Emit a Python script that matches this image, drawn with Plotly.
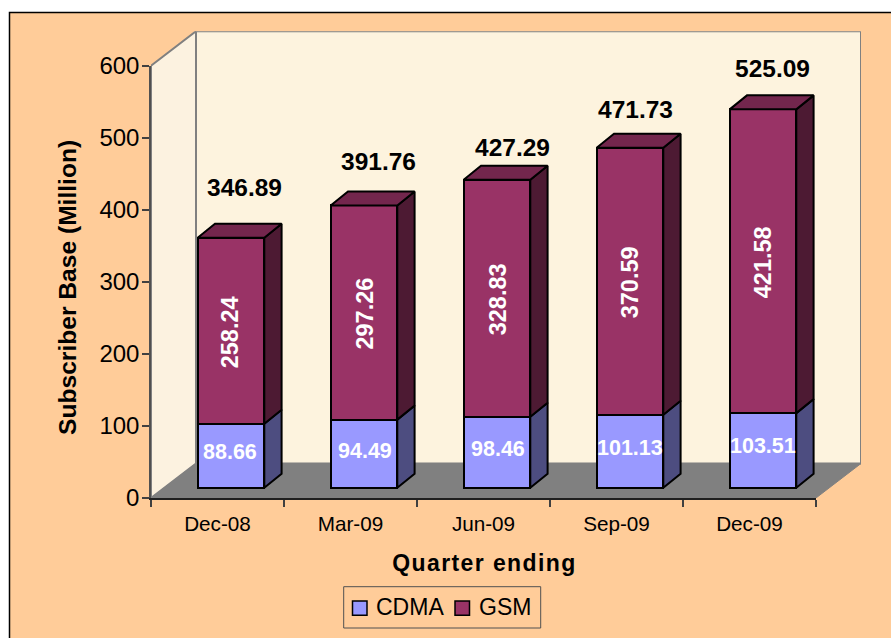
import plotly.graph_objects as go

W, H = 891, 638

quarters = ["Dec-08", "Mar-09", "Jun-09", "Sep-09", "Dec-09"]
cdma = [88.66, 94.49, 98.46, 101.13, 103.51]
gsm = [258.24, 297.26, 328.83, 370.59, 421.58]
totals = [346.89, 391.76, 427.29, 471.73, 525.09]
y_ticks = [0, 100, 200, 300, 400, 500, 600]

# Label nudges in pixels, relative to each anchor
total_dx = [13, 14, 15, 5, 9]
total_dy = [50, 44, 32, 38, 41]
inner_dx = [-1, 1, 1, 0, 0]
cdma_dy = [4, 3, 3, 3, 4]
gsm_dy = [-1.5, -1, -1, -1, -1]

BG, WALL, SIDE_WALL, FLOOR = "#FFCC99", "#FDF3DE", "#FCF2E0", "#808080"
C_FRONT, C_TOP, C_SIDE = "#9999FF", "#7373BF", "#4D4D80"
G_FRONT, G_TOP, G_SIDE = "#993366", "#73264D", "#4D1A33"
FONT = "Liberation Sans"

# Plot geometry (pixels)
L, R, B, T = 151, 816, 498, 65.7
DEPTH_X, DEPTH_Y = 45, 34.5
px_x = (R - L) / 5
px_y = (B - T) / 600
BAR_W = 66.6 / px_x
BAR_DX, BAR_DY = 17.3 / px_x, 14 / px_y
BAR_X0, BAR_Y0 = 231, 487.7


def dom_x(a, b):
    return [a / W, b / W]


def dom_y(bottom, top):
    return [1 - bottom / H, 1 - top / H]


def poly(points_list):
    xs, ys = [], []
    for pts in points_list:
        xs += [p[0] for p in pts] + [pts[0][0], None]
        ys += [p[1] for p in pts] + [pts[0][1], None]
    return xs, ys


def face(xs, ys, fill, line, width, ax):
    return go.Scatter(x=xs, y=ys, mode="lines", fill="toself", fillcolor=fill,
                      line=dict(color=line, width=width), hoverinfo="skip",
                      showlegend=False, xaxis=ax[0], yaxis=ax[1])


def paper_rect(x0, y0, x1, y1, fill, line, width):
    return dict(type="rect", xref="paper", yref="paper", x0=x0 / W, x1=x1 / W,
                y0=1 - y0 / H, y1=1 - y1 / H, fillcolor=fill,
                line=dict(color=line, width=width))


fig = go.Figure()

# Walls and floor, on a hidden axis pair that spans the depth
dx, dy = DEPTH_X / px_x, DEPTH_Y / px_y
n = len(quarters)
top = y_ticks[-1]
xs, ys = poly([[(0, 0), (dx, dy), (dx, top + dy), (0, top)]])
fig.add_trace(face(xs, ys, SIDE_WALL, "#808080", 2, ("x", "y")))
xs, ys = poly([[(dx, dy), (n + dx, dy), (n + dx, top + dy), (dx, top + dy)]])
fig.add_trace(face(xs, ys, WALL, "#808080", 2, ("x", "y")))
xs, ys = poly([[(0, 0), (n, 0), (n + dx, dy), (dx, dy)]])
fig.add_trace(face(xs, ys, FLOOR, FLOOR, 1, ("x", "y")))

# Bars: front faces are real stacked bars, with side and top faces beside them
idx = list(range(n))
hw = BAR_W / 2
c_side, g_side, g_top = [], [], []
for i in idx:
    r = i + hw
    l = i - hw
    c, s = cdma[i], cdma[i] + gsm[i]
    c_side.append([(r, 0), (r + BAR_DX, BAR_DY), (r + BAR_DX, c + BAR_DY), (r, c)])
    g_side.append([(r, c), (r + BAR_DX, c + BAR_DY), (r + BAR_DX, s + BAR_DY), (r, s)])
    g_top.append([(l, s), (r, s), (r + BAR_DX, s + BAR_DY), (l + BAR_DX, s + BAR_DY)])

for pts, col in ((c_side, C_SIDE), (g_side, G_SIDE), (g_top, G_TOP)):
    xs, ys = poly(pts)
    fig.add_trace(face(xs, ys, col, "#000000", 2, ("x2", "y2")))

fig.add_trace(go.Bar(x=idx, y=cdma, name="CDMA", width=BAR_W, xaxis="x2", yaxis="y2",
                     showlegend=False,
                     marker=dict(color=C_FRONT, line=dict(color="#000000", width=2))))
fig.add_trace(go.Bar(x=idx, y=gsm, name="GSM", width=BAR_W, xaxis="x2", yaxis="y2",
                     showlegend=False,
                     marker=dict(color=G_FRONT, line=dict(color="#000000", width=2))))

# Visible axes: an invisible marker trace keeps the category axis alive
fig.add_trace(go.Scatter(x=quarters, y=totals, mode="markers", marker=dict(opacity=0),
                         hoverinfo="skip", showlegend=False, xaxis="x3", yaxis="y3"))

ann = []
for i in idx:
    ann.append(dict(x=i, y=totals[i], xref="x2", yref="y2", text=f"<b>{totals[i]:.2f}</b>",
                    showarrow=False, xshift=total_dx[i], yshift=total_dy[i],
                    font=dict(family=FONT, size=24.5, color="#000000")))
    ann.append(dict(x=i, y=cdma[i] / 2, xref="x2", yref="y2", text=f"<b>{cdma[i]:.2f}</b>",
                    showarrow=False, xshift=inner_dx[i], yshift=cdma_dy[i],
                    font=dict(family=FONT, size=21.5, color="#FFFFFF")))
    ann.append(dict(x=i, y=cdma[i] + gsm[i] / 2, xref="x2", yref="y2",
                    text=f"<b>{gsm[i]:.2f}</b>", showarrow=False, textangle=-90,
                    xshift=inner_dx[i], yshift=gsm_dy[i],
                    font=dict(family=FONT, size=23.5, color="#FFFFFF")))


def paper_text(x, y, text, size, xanchor="center", angle=0):
    return dict(x=x / W, y=1 - y / H, xref="paper", yref="paper", showarrow=False,
                text=text, textangle=angle, xanchor=xanchor, yanchor="middle",
                font=dict(family=FONT, size=size, color="#000000"))


ann.append(paper_text(67, 288, "<b>Subscriber Base (Million)</b>", 24.6, angle=-90))
ann.append(paper_text(484, 563, "<b>Quarter ending</b>", 23))
ann.append(paper_text(374, 607, "CDMA", 23, xanchor="left"))
ann.append(paper_text(477, 607, "GSM", 23, xanchor="left"))

frame = dict(type="rect", xref="paper", yref="paper", x0=9.5 / W, y0=1 - 12.5 / H,
             x1=1.02, y1=-0.02, layer="below", fillcolor=BG,
             line=dict(color="#000000", width=1.5))

hidden = dict(visible=False, fixedrange=True)
fig.update_layout(
    width=W, height=H, margin=dict(l=0, r=0, t=0, b=0, pad=0, autoexpand=False), autosize=False,
    paper_bgcolor="#FFFFFF", plot_bgcolor="rgba(0,0,0,0)",
    barmode="stack", bargap=0.5, showlegend=False,
    xaxis=dict(hidden, domain=dom_x(L, R + DEPTH_X), range=[0, (R + DEPTH_X - L) / px_x]),
    yaxis=dict(hidden, domain=dom_y(B, T - DEPTH_Y), range=[0, (B - T + DEPTH_Y) / px_y]),
    xaxis2=dict(hidden, anchor="y2", domain=dom_x(L, R + DEPTH_X),
                range=[(L - BAR_X0) / px_x, (R + DEPTH_X - BAR_X0) / px_x]),
    yaxis2=dict(hidden, anchor="x2", domain=dom_y(B, T - DEPTH_Y),
                range=[(BAR_Y0 - B) / px_y, (BAR_Y0 - T + DEPTH_Y) / px_y]),
    xaxis3=dict(anchor="y3", domain=dom_x(L, R), type="category", categoryorder="array",
                categoryarray=quarters, range=[-0.5, 4.5], tickson="boundaries",
                ticks="outside", ticklen=7, tickwidth=1.5, tickcolor="#404040",
                showline=True, linecolor="#202020", linewidth=1.5, showgrid=False,
                ticklabelstandoff=6,
                tickfont=dict(family=FONT, size=20.7, color="#000000"), fixedrange=True),
    yaxis3=dict(anchor="x3", domain=dom_y(B, T), range=[0, 600], tickvals=y_ticks,
                ticks="outside", ticklen=7, tickwidth=1.5, tickcolor="#404040",
                showline=True, linecolor="#505050", linewidth=1.5, showgrid=False,
                zeroline=False, ticklabelstandoff=-2,
                tickfont=dict(family=FONT, size=24, color="#000000"),
                fixedrange=True),
    annotations=ann,
    shapes=[
        frame,
        paper_rect(343.7, 586.7, 540.7, 628, BG, "#505050", 1),
        paper_rect(352.5, 601, 367, 615.3, C_FRONT, "#000000", 1.5),
        paper_rect(455, 601, 469.5, 615.3, G_FRONT, "#000000", 1.5),
    ],
)

# Plotly has no letter-spacing option; the reference's x title is visibly tracked.
post = """
document.body.style.margin = '0';
document.querySelectorAll('.annotation-text').forEach(function (t) {
  if (t.textContent === 'Quarter ending') { t.style.letterSpacing = '1.4px'; }
});
"""
fig.write_html("out.html", config=dict(displayModeBar=False), post_script=post)
